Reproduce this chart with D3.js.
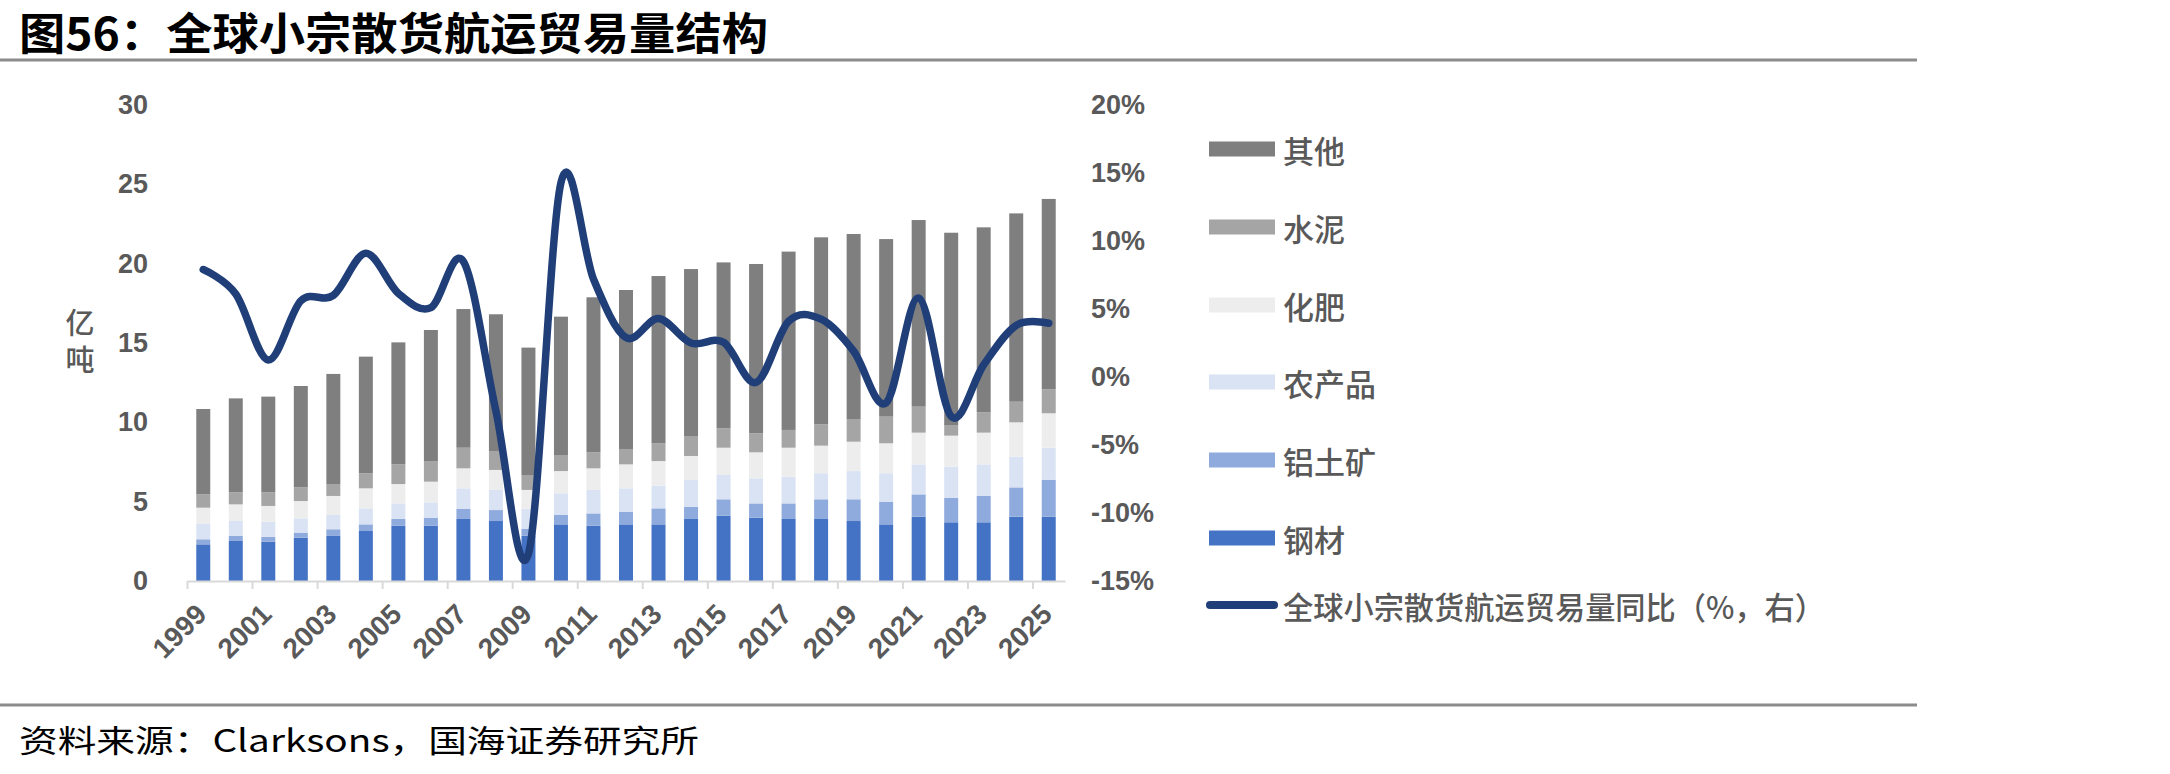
<!DOCTYPE html>
<html>
<head>
<meta charset="utf-8">
<script src="https://cdn.jsdelivr.net/npm/d3@7"></script>
<style>
  html, body { margin: 0; padding: 0; background: #ffffff; }
  svg { display: block; }
</style>
</head>
<body>
<svg id="chart" width="2170" height="774"></svg>
<script>
// ---------------- data ----------------
const years = [1999, 2000, 2001, 2002, 2003, 2004, 2005, 2006, 2007, 2008, 2009, 2010, 2011, 2012,
               2013, 2014, 2015, 2016, 2017, 2018, 2019, 2020, 2021, 2022, 2023, 2024, 2025];
const seriesNames = ["钢材", "铝土矿", "农产品", "化肥", "水泥", "其他"];
const steel   = [2.31, 2.52, 2.48, 2.73, 2.84, 3.15, 3.49, 3.49, 3.91, 3.78, 2.85, 3.57, 3.49, 3.57,
                 3.57, 3.91, 4.12, 3.99, 3.91, 3.91, 3.78, 3.57, 4.05, 3.70, 3.70, 4.05, 4.05];
const bauxite = [0.32, 0.32, 0.31, 0.32, 0.42, 0.42, 0.42, 0.50, 0.63, 0.69, 0.45, 0.59, 0.77, 0.80,
                 1.01, 0.77, 1.03, 0.90, 0.98, 1.24, 1.37, 1.43, 1.41, 1.55, 1.66, 1.85, 2.32];
const agri    = [1.00, 0.94, 0.95, 0.90, 0.90, 1.01, 0.98, 0.97, 1.30, 1.27, 1.25, 1.37, 1.48, 1.47,
                 1.43, 1.69, 1.53, 1.58, 1.69, 1.64, 1.78, 1.79, 1.89, 1.96, 1.99, 1.94, 2.03];
const fert    = [0.99, 1.05, 0.99, 1.09, 1.20, 1.26, 1.22, 1.30, 1.26, 1.26, 1.19, 1.40, 1.36, 1.51,
                 1.55, 1.51, 1.72, 1.64, 1.82, 1.74, 1.85, 1.89, 2.00, 1.95, 2.00, 2.16, 2.17];
const cement  = [0.84, 0.76, 0.86, 0.86, 0.75, 0.95, 1.24, 1.30, 1.30, 1.19, 0.94, 1.01, 1.01, 0.97,
                 1.12, 1.22, 1.22, 1.20, 1.12, 1.34, 1.43, 1.68, 1.64, 0.67, 1.28, 1.30, 1.51];
const others  = [5.38, 5.92, 6.03, 6.39, 6.94, 7.35, 7.69, 8.26, 8.74, 8.62, 8.03, 8.72, 9.77, 10.02,
                 10.54, 10.56, 10.46, 10.67, 11.24, 11.79, 11.66, 11.19, 11.76, 12.12, 11.66, 11.87, 12.00];
const growth  = [7.9, 6.1, 1.25, 5.6, 6.0, 9.1, 6.15, 5.1, 8.5, -2.5, -13.0, 14.3, 7.2, 2.9,
                 4.3, 2.5, 2.55, -0.4, 4.1, 4.25, 1.9, -1.9, 5.8, -2.9, 0.9, 3.8, 3.95];
const xTickLabels = [1999, 2001, 2003, 2005, 2007, 2009, 2011, 2013, 2015, 2017, 2019, 2021, 2023, 2025];
const leftTicks = [0, 5, 10, 15, 20, 25, 30];
const rightTicks = [-15, -10, -5, 0, 5, 10, 15, 20];
const lineName = "全球小宗散货航运贸易量同比（%，右）";
const yTitle = "亿吨";
const colors = { "钢材": "#4472C4", "铝土矿": "#8FAADC", "农产品": "#DAE3F3", "化肥": "#EDEDED", "水泥": "#A5A5A5", "其他": "#7F7F7F" };
const lineColor = "#203E78";

// ---------------- build ----------------
const svg = d3.select("#chart");
const textGray = "#595959";
const numFont = "'Liberation Sans', Arial, 'Noto Sans CJK SC', sans-serif";
const cjkFont = "'Noto Sans CJK SC', 'Noto Sans', sans-serif";

const plot = { left: 187, right: 1065, top: 105, bottom: 581 };

const table = years.map((y, i) => ({
  year: y, "钢材": steel[i], "铝土矿": bauxite[i], "农产品": agri[i], "化肥": fert[i], "水泥": cement[i], "其他": others[i]
}));
const stacked = d3.stack().keys(seriesNames)(table);

const x = d3.scaleBand().domain(years).range([plot.left, plot.right]).paddingInner(0.57).paddingOuter(0.285);
const yL = d3.scaleLinear().domain([0, 30]).range([plot.bottom, plot.top]);
const yR = d3.scaleLinear().domain([-15, 20]).range([plot.bottom, plot.top]);
const xPos = d3.scaleLinear().domain([0, years.length]).range([plot.left, plot.right]);

// title
svg.append("text")
  .attr("x", 19).attr("y", 31)
  .attr("dominant-baseline", "central")
  .attr("textLength", 749).attr("lengthAdjust", "spacingAndGlyphs")
  .style("font-family", cjkFont).style("font-weight", "bold").style("font-size", "44px").style("fill", "#000")
  .text("图56：全球小宗散货航运贸易量结构");
svg.append("line").attr("x1", 0).attr("x2", 1917).attr("y1", 60).attr("y2", 60)
  .attr("stroke", "#8c8c8c").attr("stroke-width", 3);

// bars
svg.append("g").selectAll("g").data(stacked).join("g")
  .attr("fill", d => colors[d.key])
  .selectAll("rect").data(d => d).join("rect")
  .attr("x", d => x(d.data.year))
  .attr("width", x.bandwidth())
  .attr("y", d => yL(d[1]))
  .attr("height", d => yL(d[0]) - yL(d[1]));

// x axis line + tick marks at category boundaries
const xTickAxis = d3.axisBottom(xPos).tickValues(d3.range(0, years.length, 2)).tickFormat("").tickSize(8).tickSizeOuter(0);
const gxt = svg.append("g").attr("transform", `translate(0,${plot.bottom})`).call(xTickAxis);
gxt.select(".domain").attr("stroke", "#d9d9d9").attr("stroke-width", 2);
gxt.selectAll(".tick line").attr("stroke", "#d9d9d9").attr("stroke-width", 2);

// x labels
const xLabAxis = d3.axisBottom(x).tickValues(xTickLabels).tickSize(0);
const gxl = svg.append("g").attr("transform", `translate(0,${plot.bottom})`).call(xLabAxis);
gxl.select(".domain").remove();
gxl.selectAll("text")
  .attr("x", 0).attr("y", 0).attr("dy", 0)
  .attr("transform", "translate(5,35) rotate(-45)")
  .style("text-anchor", "end")
  .style("font-family", numFont).style("font-weight", "bold").style("font-size", "28px").style("fill", textGray);

// left axis
const gl = svg.append("g").attr("transform", `translate(${plot.left},0)`)
  .call(d3.axisLeft(yL).tickValues(leftTicks).tickSize(0).tickPadding(39));
gl.select(".domain").remove();
gl.selectAll("text").style("font-family", numFont).style("font-weight", "bold").style("font-size", "27px").style("fill", textGray);

// right axis
const gr = svg.append("g").attr("transform", `translate(${plot.right},0)`)
  .call(d3.axisRight(yR).tickValues(rightTicks).tickSize(0).tickPadding(26).tickFormat(d => (d < 0 ? "-" + Math.abs(d) : d) + "%"));
gr.select(".domain").remove();
gr.selectAll("text").style("font-family", numFont).style("font-weight", "bold").style("font-size", "27px").style("fill", textGray);

// left axis title, vertical upright characters in a single text element
svg.append("text")
  .attr("x", 80).attr("y", 345)
  .attr("text-anchor", "middle")
  .style("writing-mode", "vertical-rl").style("text-orientation", "upright")
  .style("letter-spacing", "8px")
  .style("font-family", cjkFont).style("font-size", "29px").style("font-weight", "500").style("fill", textGray)
  .text(yTitle);

// line
const lineGen = d3.line()
  .x((d, i) => x(years[i]) + x.bandwidth() / 2)
  .y(d => yR(d))
  .curve(d3.curveCatmullRom.alpha(0));
svg.append("path").datum(growth)
  .attr("d", lineGen)
  .attr("fill", "none").attr("stroke", lineColor).attr("stroke-width", 7.5)
  .attr("stroke-linecap", "round").attr("stroke-linejoin", "round");

// legend
const legendOrder = ["其他", "水泥", "化肥", "农产品", "铝土矿", "钢材"];
const legendY = [149, 227, 305, 382, 460, 538];
const lg = svg.append("g");
legendOrder.forEach((k, i) => {
  lg.append("rect").attr("x", 1209).attr("y", legendY[i] - 7.5).attr("width", 66).attr("height", 15).attr("fill", colors[k]);
  lg.append("text").attr("x", 1283).attr("y", legendY[i]).attr("dominant-baseline", "central")
    .style("font-family", cjkFont).style("font-size", "31px").style("font-weight", "500").style("fill", textGray).text(k);
});
lg.append("line").attr("x1", 1210).attr("x2", 1274).attr("y1", 605).attr("y2", 605)
  .attr("stroke", lineColor).attr("stroke-width", 8).attr("stroke-linecap", "round");
lg.append("text").attr("x", 1283).attr("y", 605).attr("dominant-baseline", "central")
  .attr("textLength", 542).attr("lengthAdjust", "spacingAndGlyphs")
  .style("font-family", cjkFont).style("font-size", "31px").style("font-weight", "500").style("fill", textGray).text(lineName);

// bottom rule + source
svg.append("line").attr("x1", 0).attr("x2", 1917).attr("y1", 705).attr("y2", 705)
  .attr("stroke", "#8c8c8c").attr("stroke-width", 3);
svg.append("text")
  .attr("x", 19).attr("y", 738).attr("dominant-baseline", "central")
  .attr("textLength", 680).attr("lengthAdjust", "spacingAndGlyphs")
  .style("font-family", cjkFont).style("font-size", "31px").style("fill", "#000")
  .text("资料来源：Clarksons，国海证券研究所");
</script>
</body>
</html>
